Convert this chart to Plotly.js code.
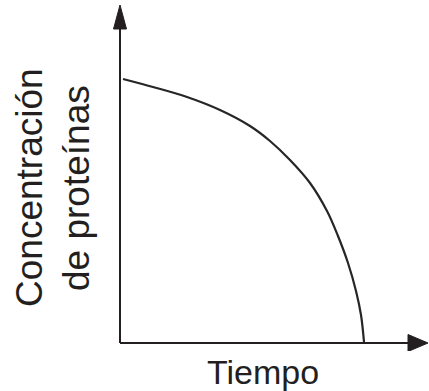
<!DOCTYPE html>
<html>
<head>
<meta charset="utf-8">
<script src="https://cdn.plot.ly/plotly-3.0.1.min.js"></script>
<style>
  html, body { margin: 0; padding: 0; background: #fff; }
  #chart { width: 429px; height: 391px; }
</style>
</head>
<body>
<div id="chart"></div>
<script>
// Protein concentration over time (no units on the axes)
const tiempo = [3, 33, 67, 100, 130, 150, 170, 190, 207, 218, 228, 236, 241, 244];
const concentracion = [264, 256, 246, 233, 217, 202, 183, 160, 132, 107, 80, 52, 28, 1];

// Axis labels
const xLabel = "Tiempo";
const yLabelLines = ["Concentración", "de proteínas"];

// Axis extents (where the arrows end)
const xMax = 308;
const yMax = 338;

const ink = "#231f20";

/**
 * Build the axis lines and their arrow heads
 */
function createAxisShapes() {
  const headLen = 22;
  const yHalf = 6.5;
  const xHalf = 8.5;
  return [
    { type: "line", x0: 0, y0: 0, x1: 0, y1: yMax - headLen + 4, line: { color: ink, width: 2 } },
    { type: "line", x0: 0, y0: 0, x1: xMax - headLen + 4, y1: 0, line: { color: ink, width: 2 } },
    {
      type: "path",
      path: `M ${-yHalf},${yMax - 24} L 0,${yMax} L ${yHalf},${yMax - 24} Z`,
      fillcolor: ink,
      line: { color: ink, width: 1 },
    },
    {
      type: "path",
      path: `M ${xMax - 20},${xHalf} L ${xMax},0 L ${xMax - 20},${-xHalf} Z`,
      fillcolor: ink,
      line: { color: ink, width: 1 },
    },
  ];
}

/**
 * Axis label annotations (paper coordinates, nudged in pixels)
 */
function createLabels() {
  const font = { family: "Liberation Sans, Arial, sans-serif", color: ink };
  const yMid = 0.4644;
  return [
    {
      text: xLabel, xref: "paper", yref: "paper", x: 0, y: 0,
      xshift: 163, yshift: -21,
      xanchor: "center", yanchor: "middle", showarrow: false,
      font: { ...font, size: 34 },
    },
    {
      text: yLabelLines[0], xref: "paper", yref: "paper", x: 0, y: yMid,
      xshift: -70,
      xanchor: "center", yanchor: "middle", textangle: -90, showarrow: false,
      font: { ...font, size: 37 },
    },
    {
      text: yLabelLines[1], xref: "paper", yref: "paper", x: 0, y: yMid,
      xshift: -23,
      xanchor: "center", yanchor: "middle", textangle: -90, showarrow: false,
      font: { ...font, size: 37 },
    },
  ];
}

const trace = {
  x: tiempo,
  y: concentracion,
  mode: "lines",
  type: "scatter",
  line: { color: "#262626", width: 2.2, shape: "spline", smoothing: 1 },
  hoverinfo: "skip",
};

const hidden = {
  visible: false,
  showgrid: false,
  zeroline: false,
  fixedrange: true,
};

const layout = {
  width: 429,
  height: 391,
  margin: { l: 100, r: 0, t: 0, b: 40 },
  paper_bgcolor: "#fff",
  plot_bgcolor: "#fff",
  showlegend: false,
  xaxis: { ...hidden, range: [-20, 309] },
  yaxis: { ...hidden, range: [-8, 343] },
  shapes: createAxisShapes(),
  annotations: createLabels(),
};

Plotly.newPlot("chart", [trace], layout, { staticPlot: true, displayModeBar: false });
</script>
</body>
</html>
